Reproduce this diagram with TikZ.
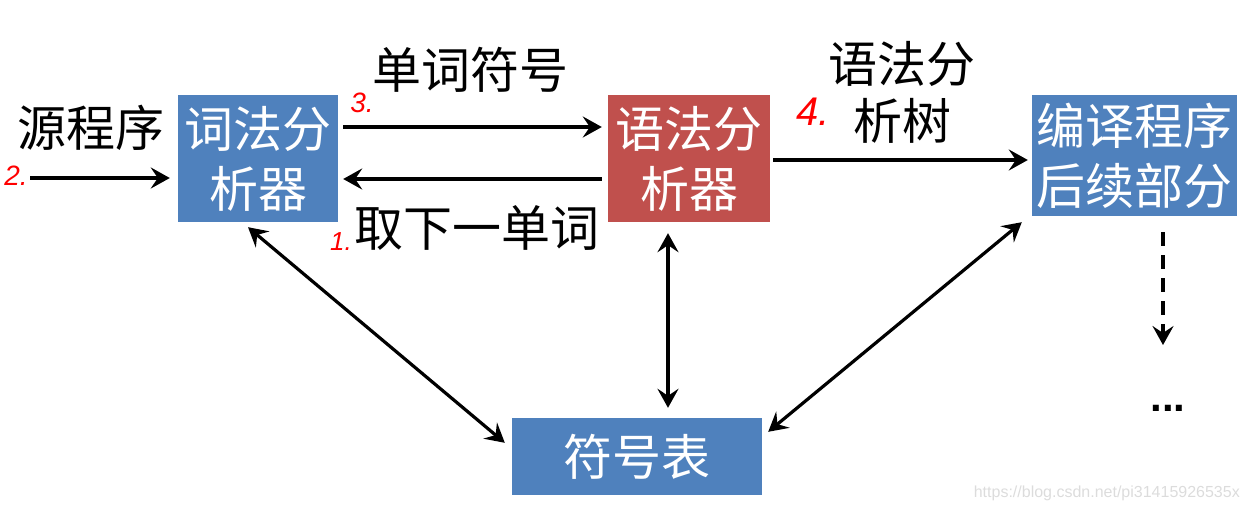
\documentclass[tikz,border=0pt]{standalone}
\usepackage{fontspec}
\setmainfont{Liberation Sans}
\newfontfamily\cjk{Noto Sans CJK SC}
\usetikzlibrary{arrows.meta}
\definecolor{boxblue}{HTML}{4F81BD}
\definecolor{boxred}{HTML}{C0504D}
\definecolor{wmgray}{HTML}{DCDCDC}
\begin{document}
\begin{tikzpicture}[x=1pt,y=1pt,
  box/.style={draw=none, inner sep=0pt, text=white, align=center,
    font=\cjk\fontsize{49}{60}\selectfont},
  lbl/.style={inner sep=0pt, align=center, font=\cjk\fontsize{49}{57}\selectfont},
  arr/.style={line width=3.2pt, -{Stealth[length=19pt,width=21pt,inset=7pt]}},
  darr/.style={line width=3.2pt, {Stealth[length=19pt,width=21pt,inset=7pt]}-{Stealth[length=19pt,width=21pt,inset=7pt]}},
  num/.style={text=red, inner sep=0pt, font=\itshape\fontsize{28}{28}\selectfont}
]
\useasboundingbox (0,0) rectangle (1249,-511);

% boxes
\node[box, fill=boxblue, minimum width=160pt, minimum height=127pt] (lex) at (258,-158.5) {词法分\\析器};
\node[box, fill=boxred, minimum width=162pt, minimum height=127pt] (par) at (689,-158.5) {语法分\\析器};
\node[box, fill=boxblue, minimum width=205pt, minimum height=121pt] (back) at (1134.5,-155.5) {编译程序\\后续部分};
\node[box, fill=boxblue, minimum width=250pt, minimum height=77pt] (sym) at (637,-456.5) {符号表};

% labels
\node[lbl] (src) at (91,-128) {源程序};
\node[lbl] (tok) at (470,-70) {单词符号};
\node[lbl] (next) at (477,-228) {取下一单词};
\node[lbl] (tree) at (902,-92) {语法分\\析树};

% red numbers
\node[num] (n2) at (16,-176) {2.};
\node[num] (n3) at (362,-103) {3.};
\node[num, font=\itshape\fontsize{26}{26}\selectfont] (n1) at (341,-242) {1.};
\node[num, font=\itshape\fontsize{40}{40}\selectfont] (n4) at (813,-112) {4.};

% input arrow
\coordinate (in) at (30,-178);
\draw[arr] (in) -- ([xshift=-8pt]lex.west |- in);

% lex <-> parser
\draw[arr] ([shift={(5pt,31.5pt)}]lex.east) -- ([shift={(-6pt,31.5pt)}]par.west);
\draw[arr] ([shift={(-6pt,-20.5pt)}]par.west) -- ([shift={(5pt,-20.5pt)}]lex.east);

% parser -> back end
\draw[arr] ([shift={(3pt,-1.5pt)}]par.east) -- ([shift={(-4pt,-4.5pt)}]back.west);

% symbol table links
\draw[darr] ([shift={(-10pt,-5pt)}]lex.south) -- ([shift={(-7pt,-25pt)}]sym.north west);
\draw[darr] ([shift={(-21pt,-11pt)}]par.south) -- ([shift={(31pt,10pt)}]sym.north);
\draw[darr] ([shift={(-10pt,-6pt)}]back.south west) -- ([shift={(6pt,-14pt)}]sym.north east);

% dashed continuation
\coordinate (more) at (1163,-345);
\draw[arr, dash pattern=on 14pt off 9pt] ([shift={(28.5pt,-16pt)}]back.south) -- (more);
\node[inner sep=0pt, anchor=base, font=\bfseries\fontsize{42}{42}\selectfont] (dots) at (1168,-411) {...};

% watermark
\node[inner sep=0pt, anchor=east, text=wmgray, font=\fontsize{16}{16}\selectfont] (wm) at (1240,-493) {https://blog.csdn.net/pi31415926535x};
\end{tikzpicture}
\end{document}
